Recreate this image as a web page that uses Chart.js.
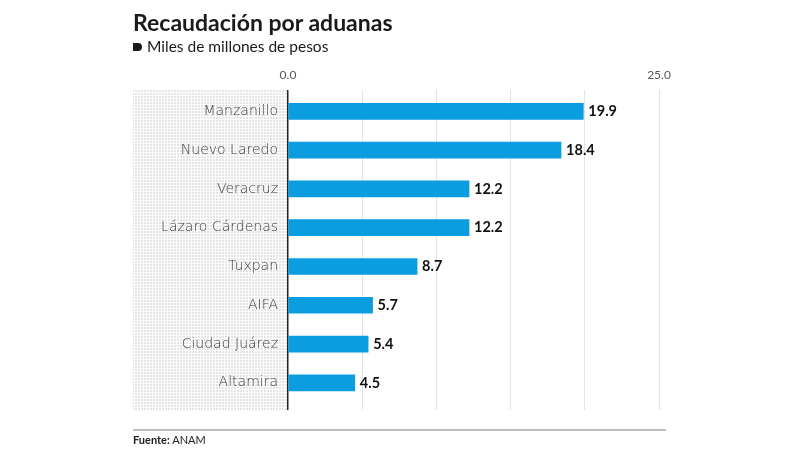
<!DOCTYPE html>
<html>
<head>
<meta charset="utf-8">
<script src="https://cdn.jsdelivr.net/npm/chart.js@4.4.1/dist/chart.umd.min.js"></script>
<style>
  html, body { margin: 0; padding: 0; background: #fff; }
  #wrap { position: relative; width: 800px; height: 450px; font-family: Lato, "Open Sans", sans-serif; }
  #grafico { position: absolute; left: 0; top: 0; }
  #titulo { position: absolute; left: 133px; top: 8px; font-size: 23px; font-weight: 700; color: #1a1a1a; }
  #subtitulo { position: absolute; left: 133px; top: 37px; font-size: 15.5px; color: #1a1a1a; }
  #subtitulo span { display: inline-block; width: 9px; height: 8px; background: #1a1a1a; border-radius: 0 5px 5px 0; margin-right: 5px; vertical-align: 1px; }
  #linha { position: absolute; left: 133px; top: 429px; width: 533px; height: 2px; background: #bdbdbd; }
  #fonte { position: absolute; left: 133px; top: 433px; font-size: 11px; color: #222; }
</style>
</head>
<body>
<div id="wrap">
  <canvas id="grafico" width="800" height="450"></canvas>
  <div id="titulo">Recaudación por aduanas</div>
  <div id="subtitulo"><span></span>Miles de millones de pesos</div>
  <div id="linha"></div>
  <div id="fonte"><b>Fuente:</b> ANAM</div>
</div>
<script>
const aduanas = ['Manzanillo', 'Nuevo Laredo', 'Veracruz', 'Lázaro Cárdenas', 'Tuxpan', 'AIFA', 'Ciudad Juárez', 'Altamira'];
const recaudacion = [19.9, 18.4, 12.2, 12.2, 8.7, 5.7, 5.4, 4.5];
const ticksVisiveis = [0, 25];

// fundo pontilhado atras dos nomes
const fundoPontilhado = {
  id: 'fundoPontilhado',
  beforeDraw(chart) {
    const { ctx, chartArea } = chart;
    const p = document.createElement('canvas');
    p.width = 3; p.height = 3;
    const pc = p.getContext('2d');
    pc.fillStyle = '#e4e4e4';
    pc.fillRect(0, 0, 2, 2);
    ctx.save();
    ctx.fillStyle = ctx.createPattern(p, 'repeat');
    ctx.fillRect(133, chartArea.top, chartArea.left - 133, chartArea.bottom - chartArea.top);
    ctx.restore();
  }
};

const rotulosValores = {
  id: 'rotulosValores',
  afterDatasetsDraw(chart) {
    const { ctx } = chart;
    const meta = chart.getDatasetMeta(0);
    ctx.save();
    ctx.font = 'bold 14.5px Lato, sans-serif';
    ctx.fillStyle = '#111';
    ctx.textBaseline = 'middle';
    meta.data.forEach((bar, i) => {
      ctx.fillText(recaudacion[i].toFixed(1), bar.x + 5, bar.y);
    });
    ctx.restore();
  }
};

new Chart(document.getElementById('grafico').getContext('2d'), {
  type: 'bar',
  data: {
    labels: aduanas,
    datasets: [{
      data: recaudacion,
      backgroundColor: '#0a9ddf',
      barThickness: 16
    }]
  },
  options: {
    indexAxis: 'y',
    responsive: false,
    animation: false,
    layout: { padding: { left: 133, right: 141, top: 64, bottom: 40 } },
    scales: {
      x: {
        position: 'top',
        min: 0,
        max: 25,
        afterFit(scale) { scale.height = 26; },
        ticks: {
          stepSize: 5,
          color: '#555',
          font: { family: 'Lato', size: 12 },
          padding: 8,
          callback: v => ticksVisiveis.includes(v) ? v.toFixed(1) : ''
        },
        grid: {
          drawTicks: false,
          color: ctx => ctx.tick && ctx.tick.value === 0 ? '#222' : '#e2e2e2',
          lineWidth: ctx => ctx.tick && ctx.tick.value === 0 ? 1.5 : 1
        },
        border: { display: false }
      },
      y: {
        // espaco extra abaixo da ultima barra
        afterBuildTicks(scale) {
          scale._startValue = -0.55;
          scale._valueRange = aduanas.length + 0.25;
        },
        afterFit(scale) { scale.width = 155; },
        ticks: {
          color: '#3a3a3a',
          font: { family: 'DejaVu Sans', size: 14, weight: 300 },
          padding: 10
        },
        grid: { display: false, drawTicks: false },
        border: { display: false }
      }
    },
    plugins: {
      legend: { display: false },
      tooltip: { enabled: false }
    }
  },
  plugins: [fundoPontilhado, rotulosValores]
});
</script>
</body>
</html>
